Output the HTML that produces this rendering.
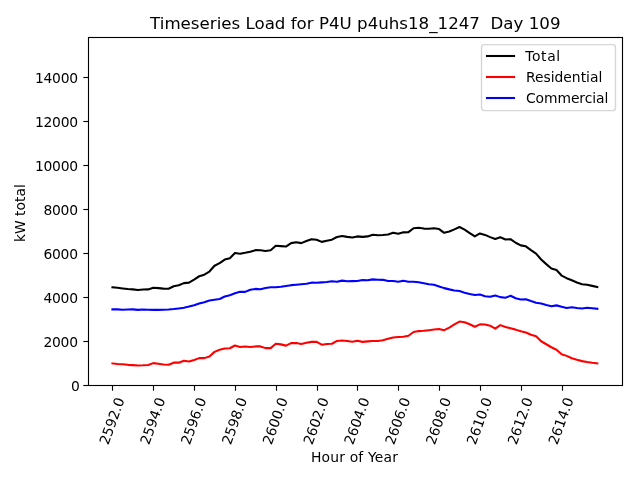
<!DOCTYPE html>
<html lang="en"><head><meta charset="utf-8"><title>Timeseries Load for P4U p4uhs18_1247 Day 109</title>
<style>html,body{margin:0;padding:0;background:#fff;overflow:hidden}svg{display:block;will-change:transform}text{font-family:"DejaVu Sans","Liberation Sans",sans-serif;font-size:13.889px;fill:#000}.t{font-size:16.667px}</style></head><body>
<svg width="640" height="480" viewBox="0 0 640 480">
<rect x="0" y="0" width="640" height="480" fill="#ffffff"/>
<g>
<polyline points="112.45,287.34 117.55,287.81 122.66,288.44 127.76,289.06 132.87,289.38 137.97,290.00 143.07,289.53 148.18,289.38 153.28,287.81 158.38,288.12 163.49,288.59 168.59,288.75 173.69,286.25 178.80,285.31 183.90,283.12 189.01,282.66 194.11,279.53 199.21,276.25 204.32,274.69 209.42,271.56 214.52,265.78 219.63,263.12 224.73,259.53 229.84,258.28 234.94,252.97 240.04,253.75 245.15,252.81 250.25,251.72 255.36,250.16 260.46,250.31 265.56,250.94 270.67,250.31 275.77,245.78 280.87,246.09 285.98,246.56 291.08,243.12 296.19,242.19 301.29,243.12 306.39,241.09 311.50,239.22 316.60,239.69 321.70,241.88 326.81,240.78 331.91,239.69 337.01,237.03 342.12,235.94 347.22,236.88 352.33,237.50 357.43,236.41 362.53,236.88 367.64,236.41 372.74,234.69 377.84,235.31 382.95,235.00 388.05,234.53 393.16,232.66 398.26,233.75 403.36,232.34 408.47,232.19 413.57,228.28 418.67,227.81 423.78,228.59 428.88,228.75 433.99,228.28 439.09,229.06 444.19,232.81 449.30,231.56 454.40,229.38 459.50,227.03 464.61,229.69 469.71,233.12 474.82,236.41 479.92,233.44 485.02,234.88 490.13,237.13 495.23,239.00 500.33,237.31 505.44,239.56 510.54,239.19 515.65,242.75 520.75,245.38 525.85,246.31 530.96,250.06 536.06,253.63 541.16,259.44 546.27,264.13 551.37,268.44 556.48,269.94 561.58,275.56 566.68,278.19 571.79,280.25 576.89,282.50 582.00,284.19 587.10,284.75 592.20,285.88 597.31,287.00" fill="none" stroke="#000000" stroke-width="2.083" stroke-linejoin="round" stroke-linecap="square"/>
<polyline points="112.45,363.44 117.55,364.06 122.66,364.22 127.76,364.84 132.87,365.16 137.97,365.47 143.07,365.31 148.18,365.00 153.28,363.12 158.38,363.75 163.49,364.53 168.59,364.69 173.69,362.66 178.80,362.66 183.90,360.78 189.01,361.56 194.11,360.00 199.21,358.12 204.32,358.12 209.42,356.41 214.52,351.88 219.63,349.69 224.73,348.44 229.84,348.28 234.94,345.47 240.04,347.03 245.15,346.41 250.25,347.03 255.36,346.41 260.46,346.41 265.56,348.12 270.67,348.12 275.77,343.75 280.87,344.38 285.98,345.62 291.08,343.12 296.19,342.97 301.29,344.06 306.39,342.66 311.50,341.88 316.60,341.88 321.70,344.69 326.81,344.06 331.91,343.75 337.01,340.94 342.12,340.47 347.22,341.09 352.33,341.72 357.43,340.78 362.53,341.88 367.64,341.41 372.74,340.94 377.84,340.94 382.95,340.16 388.05,338.75 393.16,337.50 398.26,337.03 403.36,336.72 408.47,335.78 413.57,332.03 418.67,331.09 423.78,330.78 428.88,330.16 433.99,329.53 439.09,328.91 444.19,330.16 449.30,327.66 454.40,324.38 459.50,321.56 464.61,322.19 469.71,324.22 474.82,326.72 479.92,324.38 485.02,324.56 490.13,325.69 495.23,328.69 500.33,325.13 505.44,327.00 510.54,328.31 515.65,329.63 520.75,331.31 525.85,332.44 530.96,334.69 536.06,336.19 541.16,341.25 546.27,344.25 551.37,347.25 556.48,349.69 561.58,354.19 566.68,355.88 571.79,358.31 576.89,359.81 582.00,361.13 587.10,362.06 592.20,362.81 597.31,363.38" fill="none" stroke="#ff0000" stroke-width="2.083" stroke-linejoin="round" stroke-linecap="square"/>
<polyline points="112.45,309.38 117.55,309.38 122.66,309.69 127.76,309.53 132.87,309.38 137.97,309.84 143.07,309.53 148.18,309.69 153.28,309.84 158.38,309.84 163.49,309.69 168.59,309.53 173.69,309.06 178.80,308.44 183.90,307.81 189.01,306.56 194.11,305.16 199.21,303.59 204.32,302.19 209.42,300.47 214.52,299.69 219.63,299.06 224.73,296.56 229.84,295.16 234.94,293.28 240.04,291.72 245.15,291.88 250.25,289.84 255.36,288.91 260.46,289.22 265.56,287.97 270.67,287.19 275.77,287.19 280.87,286.72 285.98,285.94 291.08,285.16 296.19,284.69 301.29,284.22 306.39,283.75 311.50,282.66 316.60,282.81 321.70,282.34 326.81,282.03 331.91,281.25 337.01,281.72 342.12,280.62 347.22,281.25 352.33,281.09 357.43,280.94 362.53,280.00 367.64,280.31 372.74,279.38 377.84,279.69 382.95,279.84 388.05,280.94 393.16,280.94 398.26,281.72 403.36,280.78 408.47,281.72 413.57,281.72 418.67,282.34 423.78,283.28 428.88,284.22 433.99,284.69 439.09,286.41 444.19,288.12 449.30,289.38 454.40,290.47 459.50,291.09 464.61,292.66 469.71,294.06 474.82,295.00 479.92,294.53 485.02,296.19 490.13,296.75 495.23,295.44 500.33,297.13 505.44,297.69 510.54,295.81 515.65,298.25 520.75,299.56 525.85,299.19 530.96,301.06 536.06,302.75 541.16,303.50 546.27,305.00 551.37,306.31 556.48,305.38 561.58,306.69 566.68,308.00 571.79,307.25 576.89,308.00 582.00,308.56 587.10,307.81 592.20,308.19 597.31,308.75" fill="none" stroke="#0000ff" stroke-width="2.083" stroke-linejoin="round" stroke-linecap="square"/>
</g>
<g stroke="#000" stroke-width="1.11" fill="none">
<line x1="112.5" y1="385.5" x2="112.5" y2="390.7"/>
<line x1="153.5" y1="385.5" x2="153.5" y2="390.7"/>
<line x1="194.5" y1="385.5" x2="194.5" y2="390.7"/>
<line x1="235.5" y1="385.5" x2="235.5" y2="390.7"/>
<line x1="276.5" y1="385.5" x2="276.5" y2="390.7"/>
<line x1="317.5" y1="385.5" x2="317.5" y2="390.7"/>
<line x1="357.5" y1="385.5" x2="357.5" y2="390.7"/>
<line x1="398.5" y1="385.5" x2="398.5" y2="390.7"/>
<line x1="439.5" y1="385.5" x2="439.5" y2="390.7"/>
<line x1="480.5" y1="385.5" x2="480.5" y2="390.7"/>
<line x1="521.5" y1="385.5" x2="521.5" y2="390.7"/>
<line x1="562.5" y1="385.5" x2="562.5" y2="390.7"/>
<line x1="83.3" y1="385.5" x2="88.5" y2="385.5"/>
<line x1="83.3" y1="341.5" x2="88.5" y2="341.5"/>
<line x1="83.3" y1="297.5" x2="88.5" y2="297.5"/>
<line x1="83.3" y1="253.5" x2="88.5" y2="253.5"/>
<line x1="83.3" y1="209.5" x2="88.5" y2="209.5"/>
<line x1="83.3" y1="165.5" x2="88.5" y2="165.5"/>
<line x1="83.3" y1="121.5" x2="88.5" y2="121.5"/>
<line x1="83.3" y1="77.5" x2="88.5" y2="77.5"/>
</g>
<rect x="88.5" y="37.5" width="534.0" height="348.0" fill="none" stroke="#000" stroke-width="1.11" stroke-linejoin="miter"/>
<g text-anchor="end" style="letter-spacing:-0.3px">
<text x="79.60" y="390.75">0</text>
<text x="77.70" y="346.80">2000</text>
<text x="77.70" y="302.85">4000</text>
<text x="77.70" y="258.90">6000</text>
<text x="77.70" y="214.95">8000</text>
<text x="77.70" y="171.00">10000</text>
<text x="77.70" y="127.05">12000</text>
<text x="77.70" y="83.10">14000</text>
</g>
<g text-anchor="middle">
<text transform="translate(111.75,420.90) rotate(-70)" y="5.00">2592.0</text>
<text transform="translate(152.58,420.90) rotate(-70)" y="5.00">2594.0</text>
<text transform="translate(193.41,420.90) rotate(-70)" y="5.00">2596.0</text>
<text transform="translate(234.24,420.90) rotate(-70)" y="5.00">2598.0</text>
<text transform="translate(275.07,420.90) rotate(-70)" y="5.00">2600.0</text>
<text transform="translate(315.90,420.90) rotate(-70)" y="5.00">2602.0</text>
<text transform="translate(356.73,420.90) rotate(-70)" y="5.00">2604.0</text>
<text transform="translate(397.56,420.90) rotate(-70)" y="5.00">2606.0</text>
<text transform="translate(438.39,420.90) rotate(-70)" y="5.00">2608.0</text>
<text transform="translate(479.22,420.90) rotate(-70)" y="5.00">2610.0</text>
<text transform="translate(520.05,420.90) rotate(-70)" y="5.00">2612.0</text>
<text transform="translate(560.88,420.90) rotate(-70)" y="5.00">2614.0</text>
</g>
<text x="354.50" y="461.60" text-anchor="middle" style="letter-spacing:0.18px">Hour of Year</text>
<text transform="translate(24.60,213.10) rotate(-90)" text-anchor="middle">kW total</text>
<text class="t" x="355.30" y="29.10" text-anchor="middle" xml:space="preserve" style="white-space:pre">Timeseries Load for P4U p4uhs18_1247  Day 109</text>
<rect x="481.5" y="44.6" width="134.0" height="66.0" rx="2.8" ry="2.8" fill="#ffffff" fill-opacity="0.8" stroke="#cccccc" stroke-opacity="0.8" stroke-width="1.39"/>
<line x1="487.0" y1="56.00" x2="514.0" y2="56.00" stroke="#000000" stroke-width="2.083" stroke-linecap="square"/>
<text x="525.3" y="60.75" style="letter-spacing:0.60px">Total</text>
<line x1="487.0" y1="77.00" x2="514.0" y2="77.00" stroke="#ff0000" stroke-width="2.083" stroke-linecap="square"/>
<text x="525.9" y="81.75" style="letter-spacing:0.00px">Residential</text>
<line x1="487.0" y1="98.00" x2="514.0" y2="98.00" stroke="#0000ff" stroke-width="2.083" stroke-linecap="square"/>
<text x="526.0" y="102.75" style="letter-spacing:-0.08px">Commercial</text>
</svg></body></html>
